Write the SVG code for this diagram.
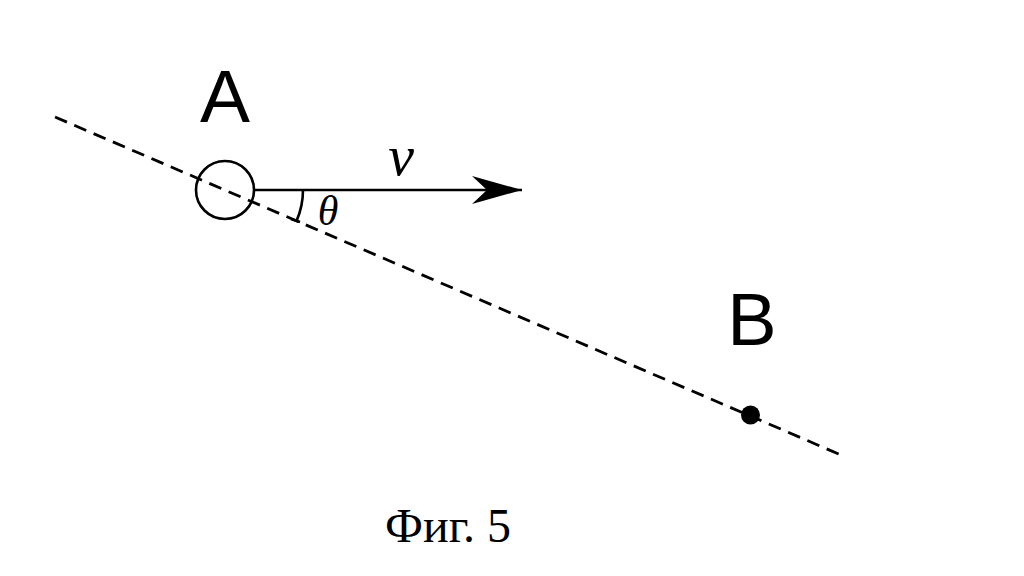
<svg xmlns="http://www.w3.org/2000/svg" width="1024" height="576" viewBox="0 0 1024 576">
<style>
.ln{stroke:#000;fill:none;stroke-width:2.6}
.dash{stroke:#000;stroke-width:2.8;stroke-dasharray:13 8;fill:none}
.sans{font-family:"Liberation Sans",Arial,sans-serif;fill:#000}
.serif{font-family:"Liberation Serif","Times New Roman",serif;fill:#000}
</style>
<defs>
<marker id="ah" markerUnits="userSpaceOnUse" markerWidth="60" markerHeight="40" refX="50" refY="14" orient="auto">
<path d="M0,0 L50,14 L0,28 L15,14 Z" fill="#000"/>
</marker>
</defs>
<rect width="1024" height="576" fill="#fff"/>
<g id="connectors">
<line class="dash" x1="55" y1="117" x2="841" y2="455"/>
<line class="ln" x1="254" y1="190" x2="522" y2="190" marker-end="url(#ah)"/>
<path class="ln" d="M303,190 A78,78 0 0 1 296.6,220.8"/>
<line class="ln" x1="291" y1="219" x2="300" y2="222"/>
</g>
<g id="nodeA">
<circle class="ln" cx="225" cy="190" r="29"/>
<text class="sans" x="225" y="122" font-size="75" text-anchor="middle">A</text>
</g>
<g id="nodeB">
<circle cx="750.5" cy="415" r="9.5" fill="#000"/>
<text class="sans" x="752" y="345" font-size="74" text-anchor="middle">B</text>
</g>
<g id="labels">
<text class="serif" x="401" y="175" font-size="58" font-style="italic" text-anchor="middle">v</text>
<text class="serif" x="328" y="225" font-size="42" font-style="italic" text-anchor="middle">θ</text>
<text class="serif" x="448" y="542" font-size="48" text-anchor="middle">Фиг. 5</text>
</g>
</svg>
